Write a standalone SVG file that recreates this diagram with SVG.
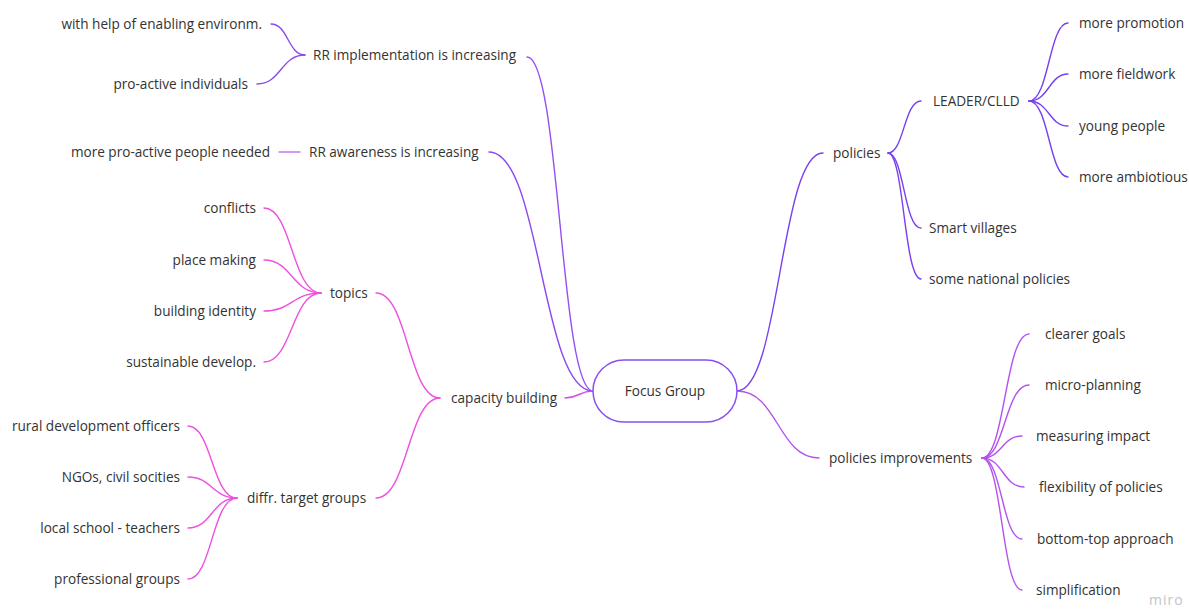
<svg xmlns="http://www.w3.org/2000/svg" width="1189" height="609" viewBox="0 0 1189 609">
<style>
text{font-family:"Open Sans","Noto Sans","Liberation Sans",sans-serif;font-size:13.6px;fill:#333}
.e{text-anchor:end}
.c{text-anchor:middle}
#connectors path{fill:none;stroke-width:1.4;stroke-linecap:round}
.v1{stroke:#7a3ff2}
.v2{stroke:#9650f0}
.v3{stroke:#8a4af0}
.v4{stroke:#c47af0}
.pk{stroke:#d050e8}
.mg{stroke:#f050e0}
.pi{stroke:#b452ee}
.root{fill:#fff;stroke:#8a4ff0;stroke-width:1.5}
.wm{fill:#c4c4c4;font-size:14px;letter-spacing:1px}
</style>
<rect width="1189" height="609" fill="#fff"/>
<g id="connectors">
<path class="v2" d="M593 391 C560 391 560 57 527 57"/>
<path class="v3" d="M593 391 C541 391 541 152 489 152"/>
<path class="pk" d="M593 391 C579 391 579 398 565 398"/>
<path class="v3" d="M305 55 C288 55 288 24 271 24"/>
<path class="v3" d="M305 55 C281 55 281 84 257 84"/>
<path class="v4" d="M279 152 L300 152"/>
<path class="mg" d="M440 398 C408 398 408 293 376 293"/>
<path class="mg" d="M440 398 C408 398 408 498 376 498"/>
<path class="mg" d="M321 293 C292 293 292 208 264 208"/>
<path class="mg" d="M321 293 C292 293 292 260 264 260"/>
<path class="mg" d="M321 293 C292 293 292 311 264 311"/>
<path class="mg" d="M321 293 C292 293 292 362 264 362"/>
<path class="mg" d="M237 498 C212 498 212 426 188 426"/>
<path class="mg" d="M237 498 C212 498 212 477 188 477"/>
<path class="mg" d="M237 498 C212 498 212 528 188 528"/>
<path class="mg" d="M237 498 C212 498 212 579 188 579"/>
<path class="v1" d="M737 391 C780 391 780 153 823 153"/>
<path class="pi" d="M737 391 C778 391 778 458 819 458"/>
<path class="v1" d="M888 153 C904 153 904 101 921 101"/>
<path class="v1" d="M888 153 C904 153 904 228 921 228"/>
<path class="v1" d="M888 153 C904 153 904 279 921 279"/>
<path class="v1" d="M1029 101 C1049 101 1049 23 1068 23"/>
<path class="v1" d="M1029 101 C1049 101 1049 74 1068 74"/>
<path class="v1" d="M1029 101 C1049 101 1049 126 1068 126"/>
<path class="v1" d="M1029 101 C1049 101 1049 177 1068 177"/>
<path class="pi" d="M982 458 C1005 458 1005 334 1029 334"/>
<path class="pi" d="M982 458 C1005 458 1005 385 1029 385"/>
<path class="pi" d="M982 458 C1002 458 1002 436 1022 436"/>
<path class="pi" d="M982 458 C1003 458 1003 487 1024 487"/>
<path class="pi" d="M982 458 C1002 458 1002 539 1022 539"/>
<path class="pi" d="M982 458 C1002 458 1002 590 1022 590"/>
</g>
<g id="root"><rect class="root" x="593" y="360" width="144" height="62" rx="31"/><text class="c" x="665" y="396">Focus Group</text></g>
<g id="rr-impl"><text x="313" y="60">RR implementation is increasing</text></g>
<g id="rr-impl-1"><text class="e" x="262" y="29">with help of enabling environm.</text></g>
<g id="rr-impl-2"><text class="e" x="248" y="89">pro-active individuals</text></g>
<g id="rr-aware"><text x="309" y="157">RR awareness is increasing</text></g>
<g id="rr-aware-1"><text class="e" x="270" y="157">more pro-active people needed</text></g>
<g id="capacity"><text x="451" y="403">capacity building</text></g>
<g id="topics"><text x="330" y="298">topics</text></g>
<g id="t1"><text class="e" x="256" y="213">conflicts</text></g>
<g id="t2"><text class="e" x="256" y="265">place making</text></g>
<g id="t3"><text class="e" x="256" y="316">building identity</text></g>
<g id="t4"><text class="e" x="256" y="367">sustainable develop.</text></g>
<g id="targets"><text x="247" y="503">diffr. target groups</text></g>
<g id="g1"><text class="e" x="180" y="431">rural development officers</text></g>
<g id="g2"><text class="e" x="180" y="482">NGOs, civil socities</text></g>
<g id="g3"><text class="e" x="180" y="533">local school - teachers</text></g>
<g id="g4"><text class="e" x="180" y="584">professional groups</text></g>
<g id="policies"><text x="833" y="158">policies</text></g>
<g id="leader"><text x="933" y="106">LEADER/CLLD</text></g>
<g id="l1"><text x="1079" y="28">more promotion</text></g>
<g id="l2"><text x="1079" y="79">more fieldwork</text></g>
<g id="l3"><text x="1079" y="131">young people</text></g>
<g id="l4"><text x="1079" y="182">more ambiotious</text></g>
<g id="smart"><text x="929" y="233">Smart villages</text></g>
<g id="national"><text x="929" y="284">some national policies</text></g>
<g id="pimp"><text x="829" y="463">policies improvements</text></g>
<g id="p1"><text x="1045" y="339">clearer goals</text></g>
<g id="p2"><text x="1045" y="390">micro-planning</text></g>
<g id="p3"><text x="1036" y="441">measuring impact</text></g>
<g id="p4"><text x="1039" y="492">flexibility of policies</text></g>
<g id="p5"><text x="1037" y="544">bottom-top approach</text></g>
<g id="p6"><text x="1036" y="595">simplification</text></g>
<text class="wm" x="1149" y="605">miro</text>
</svg>
